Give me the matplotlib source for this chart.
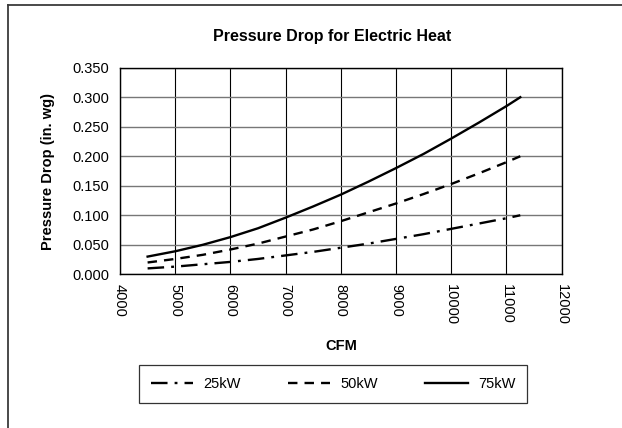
import matplotlib
matplotlib.use("Agg")
import matplotlib.pyplot as plt
from matplotlib.lines import Line2D

plt.rcParams['font.family'] = ['Liberation Sans', 'DejaVu Sans']

cfm = [4500, 5000, 5500, 6000, 6500, 7000, 7500, 8000, 8500, 9000, 9500, 10000, 10500, 11000, 11250]
drop_25kw = [0.010, 0.013, 0.017, 0.021, 0.026, 0.032, 0.038, 0.045, 0.052, 0.060, 0.068, 0.077, 0.086, 0.095, 0.100]
drop_50kw = [0.020, 0.026, 0.033, 0.042, 0.052, 0.064, 0.076, 0.090, 0.105, 0.120, 0.136, 0.153, 0.171, 0.190, 0.200]
drop_75kw = [0.030, 0.039, 0.050, 0.063, 0.078, 0.096, 0.115, 0.135, 0.157, 0.180, 0.204, 0.230, 0.257, 0.285, 0.300]

x_ticks = [4000, 5000, 6000, 7000, 8000, 9000, 10000, 11000, 12000]
y_ticks = [0.0, 0.05, 0.10, 0.15, 0.20, 0.25, 0.30, 0.35]

fig = plt.figure(figsize=(6.22, 4.28), dpi=100)
ax = fig.add_axes([120 / 622, 1 - 274.3 / 428, 441.7 / 622, 206.6 / 428])

ax.plot(cfm, drop_25kw, color='black', lw=1.7, dashes=(7, 3, 1.2, 3), label='25kW')
ax.plot(cfm, drop_50kw, color='black', lw=1.7, dashes=(4, 3), label='50kW')
ax.plot(cfm, drop_75kw, color='black', lw=1.7, label='75kW')

ax.set_xlim(4000, 12000)
ax.set_ylim(0, 0.35)
ax.set_xticks(x_ticks)
ax.set_yticks(y_ticks)
ax.set_xticklabels([str(v) for v in x_ticks], rotation=270, fontsize=10.5)
ax.set_yticklabels([f"{v:.3f}" for v in y_ticks], fontsize=10.5)
ax.tick_params(axis='y', length=0, pad=8)
ax.tick_params(axis='x', length=0, pad=7)
ax.grid(axis='x', color='black', lw=0.8)
ax.grid(axis='y', color='#777777', lw=1.0)
ax.set_axisbelow(True)
for s in ax.spines.values():
    s.set_linewidth(1.0)
    s.set_color('black')

ax.set_xlabel('CFM', fontsize=10.5, fontweight='bold', labelpad=10)
ax.set_ylabel('Pressure Drop (in. wg)', fontsize=10.5, fontweight='bold', labelpad=12)
fig.text(332.5 / 622, 1 - 36 / 428, 'Pressure Drop for Electric Heat',
         ha='center', va='center', fontsize=11.5, fontweight='bold')

leg = fig.legend(loc='lower left', ncol=3, mode='expand',
                 bbox_to_anchor=(139 / 622, 1 - 402.7 / 428, 388 / 622, 33.4 / 428),
                 fontsize=10.5, frameon=True, fancybox=False, handlelength=2.9,
                 handletextpad=0.7, borderaxespad=0, borderpad=0.8)
leg.get_frame().set_edgecolor('black')
leg.get_frame().set_linewidth(0.9)

# outer border of the chart area
fig.add_artist(Line2D([8 / 622, 1], [1 - 5 / 428, 1 - 5 / 428], transform=fig.transFigure,
                      color='#3a3a3a', lw=1.3))
fig.add_artist(Line2D([8 / 622, 8 / 622], [0, 1 - 5 / 428], transform=fig.transFigure,
                      color='#3a3a3a', lw=1.3))

fig.savefig('out.png', dpi=100)
